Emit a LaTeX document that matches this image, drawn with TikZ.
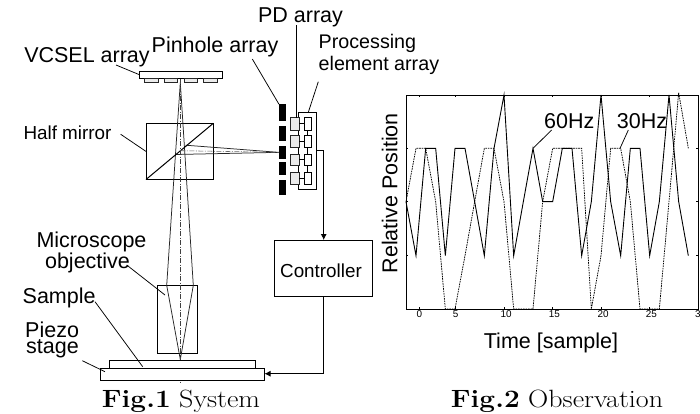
\documentclass[tikz,border=0pt]{standalone}
\usepackage{fontspec}
\usepackage{graphicx}
\usetikzlibrary{arrows.meta}
\newfontfamily\arial{Liberation Sans}
\newcommand{\fs}[1]{\fontsize{#1}{#1}\selectfont}
\newcommand{\bx}[6]{%
  \pgfmathsetmacro{\bw}{#5-#3}\pgfmathsetmacro{\bh}{#6-#4}%
  \pgfmathsetmacro{\bcx}{(#3+#5)/2}\pgfmathsetmacro{\bcy}{(#4+#6)/2}%
  \node[#2,minimum width=\bw pt,minimum height=\bh pt] (#1) at (\bcx,\bcy) {};}
\tikzset{
  box/.style={draw=black,line width=0.9pt,inner sep=0pt,outer sep=0pt,fill=white},
  graybox/.style={box,fill=black!8,line width=0.8pt,draw=black!85},
  hole/.style={inner sep=0pt,outer sep=0pt,fill=black},
  framebox/.style={draw=black,line width=0.9pt,inner sep=0pt,outer sep=0pt},
  lab/.style={font=\arial\fs{21.5},anchor=base,inner sep=0pt},
  labm/.style={font=\arial\fs{19.7},anchor=base,inner sep=0pt},
  labs/.style={font=\arial\fs{18.85},anchor=base west,inner sep=0pt},
  labl/.style={labm,anchor=base west},
  lead/.style={line width=0.75pt},
  ray/.style={line width=0.75pt,draw=black!85},
  axisl/.style={line width=0.55pt,draw=black!75,dash pattern=on 5pt off 1.5pt on 1pt off 1.5pt},
  conn/.style={line width=0.8pt,-{Latex[length=6pt,width=6pt]}},
  captxt/.style={font=\fs{25},anchor=base,inner sep=0pt},
  ticklab/.style={font=\arial\fs{9.9},anchor=base,inner sep=0pt},
  solidplot/.style={line width=0.9pt,line join=miter},
  dashplot/.style={line width=0.75pt,dash pattern=on 1.6pt off 0.9pt},
}
\begin{document}
\begin{tikzpicture}[x=1pt,y=-1pt]
\useasboundingbox (0,0) rectangle (700,413);
\clip (0,0) rectangle (700,413);

% rays behind the optics
\bx{hm}{box}{146}{123.3}{213.3}{179.5}
\bx{obj}{box}{157.7}{285.3}{197.7}{353.3}
\coordinate (src) at (180.3,82.5);
\coordinate (focus) at (180.3,359.5);
\coordinate (raL) at (166.7,285.3);
\coordinate (raR) at (193.3,285.3);
\coordinate (hitL) at (175,154.5);
\coordinate (hitR) at (185.7,145.2);
\draw[ray] (src) -- (raL) -- (focus) -- (raR) -- cycle;
\bx{ph1}{hole}{279}{104.3}{285.7}{121}
\bx{ph2}{hole}{279}{125.7}{285.7}{140.7}
\bx{ph3}{hole}{279}{145.7}{285.7}{159}
\bx{ph4}{hole}{279}{162.3}{285.7}{175}
\bx{ph5}{hole}{279}{180}{285.7}{195}
\draw[ray] (hitL) -- (ph3.west) -- (hitR);
\draw[line width=1pt] (hm.south west) -- (hm.north east);
\draw[axisl] (180.3,78) -- (180.3,383.5);
\draw[axisl,draw=black!60] (180.3,150.7) -- (ph3.west);

% VCSEL
\bx{vcsel}{box}{139.5}{71.5}{222.5}{78}
\bx{em1}{graybox}{144.7}{78}{158}{82.7}
\bx{em2}{graybox}{164}{78}{177.3}{82.7}
\bx{em3}{graybox}{184}{78}{197.3}{82.7}
\bx{em4}{graybox}{203.7}{78}{217}{82.7}

% PD and processing elements
\bx{pe}{box}{298.5}{112.3}{316.7}{189.3}
\bx{pd1}{graybox}{290.7}{117.7}{299}{130}
\bx{pd2}{graybox}{290.7}{135.7}{299}{147.7}
\bx{pd3}{graybox}{290.7}{154}{299}{165.7}
\bx{pd4}{graybox}{290.7}{172}{299}{184}
\bx{el1}{box}{304}{117.7}{311.7}{130}
\bx{el2}{box}{304}{135.7}{311.7}{147.7}
\bx{el3}{box}{304}{154}{311.7}{165.7}
\bx{el4}{box}{304}{172}{311.7}{184}
\foreach \i in {1,2,3,4}{\draw[line width=0.9pt] (pd\i.east) -- (el\i.west);}
\draw[line width=0.9pt] (el1.south) -- (el2.north) (el2.south) -- (el3.north) (el3.south) -- (el4.north);

% stage
\bx{sample}{box}{109.3}{360.7}{255.7}{368.3}
\bx{stage}{box}{100}{368.3}{264.5}{380.3}
\bx{ctrl}{box}{274.5}{240}{372.5}{296.7}
\node[labs,anchor=base] (ctrltext) at (321,277) {Controller};

% connectors
\coordinate (peout) at (316.7,150.7);
\coordinate (cin) at (323.7,240);
\coordinate (cout) at (323.7,296.7);
\coordinate (stin) at (264.5,373.7);
\draw[conn] (peout) -| (cin);
\draw[conn] (cout) |- (stin);

% labels
\node[lab] (lpd) at (300.5,22) {PD array};
\node[lab] (lph) at (215,52) {Pinhole array};
\node[lab] (lvc) at (87,62) {VCSEL array};
\node[labl] (lpe1) at (318.5,48) {Processing};
\node[labl] (lpe2) at (318.5,70) {element array};
\node[labs] (lhm) at (23.3,139.5) {Half mirror};
\node[lab] (lmo1) at (91.5,247.5) {Microscope};
\node[lab] (lmo2) at (87.5,268.5) {objective};
\node[lab,anchor=base west] (lsa) at (22.5,303) {Sample};
\node[lab,anchor=base west] (lpz1) at (25,337) {Piezo};
\node[lab,anchor=base west] (lpz2) at (26,353) {stage};
\node[captxt] (cap1) at (181,407) {\scalebox{1.12}[1]{\textbf{Fig.1} System}};
\node[captxt] (cap2) at (557,407) {\scalebox{1.12}[1]{\textbf{Fig.2} Observation}};

% leaders
\coordinate (a1) at (116,65);
\coordinate (a2) at (252.3,59);
\coordinate (a3) at (296.7,25);
\coordinate (a4) at (318.3,81.7);
\coordinate (a5) at (120.7,134.3);
\coordinate (a6) at (126.7,265);
\coordinate (a7) at (95,301.7);
\coordinate (a8) at (82.3,360.7);
\draw[lead] (a1) -- (vcsel.west);
\draw[lead] (a2) -- (ph1.north west);
\draw[lead] (a3) -- (a3 |- pd1.north);
\draw[lead] (a4) -- (308.3,112.3);
\draw[lead] (a5) -- (hm.west);
\draw[lead] (a6) -- (165,295);
\draw[lead] (a7) -- (142.7,366.7);
\draw[lead] (a8) -- (105,371.7);

% plot
\bx{frame}{framebox}{406}{95}{698.3}{309}
\begin{scope}[shift={(370,80)},x=0.33333pt,y=-0.33333pt]
\draw[solidplot] plot coordinates {(108,365) (138,527) (167,205) (197,205) (226,527) (255,205) (285,205) (314,365) (343,527) (372,205) (402,45) (431,527) (460,365) (489,205) (518,365) (548,365) (577,205) (606,205) (635,527) (664,365) (693,45) (722,365) (752,527) (781,205) (810,205) (839,527) (868,365) (897,45) (926,365) (955,527)};
\draw[dashplot] plot coordinates {(108,365) (138,205) (167,205) (197,365) (226,687) (255,687) (285,527) (314,365) (343,205) (372,205) (402,365) (431,687) (460,687) (489,687) (518,365) (548,205) (577,205) (606,205) (635,205) (664,687) (693,527) (722,205) (752,205) (781,365) (810,687) (839,687) (868,687) (897,365) (926,38) (955,205)};
\foreach \tx in {148,257,402,547,693,838}{
  \draw[line width=0.5pt] (\tx,45) -- (\tx,52) (\tx,687) -- (\tx,680);}
\foreach \ty in {205,365,527}{
  \draw[line width=0.5pt] (108,\ty) -- (115,\ty) (985,\ty) -- (978,\ty);}
\coordinate (p60) at (489,205);
\coordinate (p30) at (750,205);
\coordinate (l60) at (545,150);
\coordinate (l30) at (775,150);
\draw[lead] (l60) -- (p60);
\draw[lead] (l30) -- (p30);
\node[lab] (t60) at (598,145) {60Hz};
\node[lab] (t30) at (816,145) {30Hz};
\node[ticklab] (x0) at (148,711) {0};
\node[ticklab] (x5) at (257,711) {5};
\node[ticklab] (x10) at (408,711) {10};
\node[ticklab] (x15) at (553,711) {15};
\node[ticklab] (x20) at (699,711) {20};
\node[ticklab] (x25) at (844,711) {25};
\node[ticklab,anchor=base west] (x30) at (975,711) {3};
\node[lab] (xlab) at (543,804) {Time [sample]};
\node[lab,rotate=90] (ylab) at (82,340) {Relative Position};
\end{scope}
\end{tikzpicture}
\end{document}
